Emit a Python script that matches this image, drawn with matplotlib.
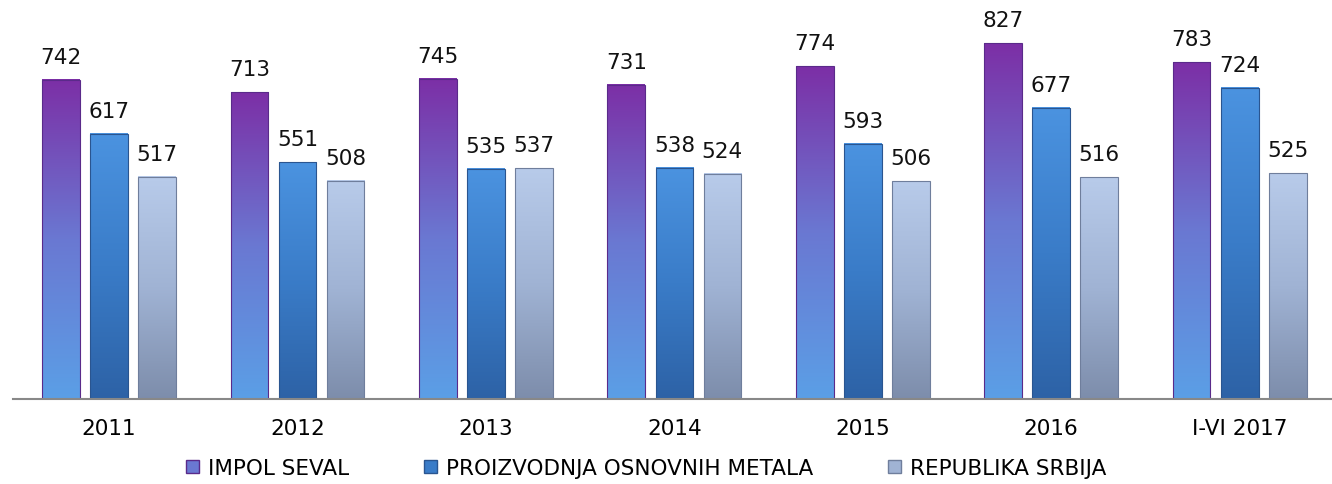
import numpy as np
import matplotlib
matplotlib.use("Agg")
from matplotlib import pyplot as plt
from matplotlib.colors import LinearSegmentedColormap
from matplotlib.patches import Patch, Rectangle

categories = ["2011", "2012", "2013", "2014", "2015", "2016", "I-VI 2017"]
impol = [742, 713, 745, 731, 774, 827, 783]
proizvodnja = [617, 551, 535, 538, 593, 677, 724]
srbija = [517, 508, 537, 524, 506, 516, 525]
series_names = ["IMPOL SEVAL", "PROIZVODNJA OSNOVNIH METALA", "REPUBLIKA SRBIJA"]

# gradient colours (bottom -> top)
grads = [
    ["#5b9fe6", "#6a78d2", "#7c2fa6"],
    ["#2d62a6", "#3a7cc8", "#4b93e0"],
    ["#7d8dab", "#a0b3d4", "#b8cbea"],
]
edges = ["#5a2a8a", "#2a5590", "#6f7e9c"]
fs = 15.5

fig = plt.figure(figsize=(13.32, 4.85), dpi=100)
ax = fig.add_axes([13 / 1332, 1 - 400 / 485, 1 - 13 / 1332, 400 / 485])

x = np.arange(len(categories))
width = 0.2
offset = 0.255
grad = np.linspace(0, 1, 256).reshape(-1, 1)

for k, vals in enumerate([impol, proizvodnja, srbija]):
    cmap = LinearSegmentedColormap.from_list("g%d" % k, grads[k])
    pos = x + (k - 1) * offset
    bars = ax.bar(pos, vals, width, color="none", edgecolor="none")
    for b, v in zip(bars, vals):
        x0 = b.get_x()
        ax.imshow(grad, extent=[x0, x0 + width, 0, v], origin="lower",
                  aspect="auto", cmap=cmap, zorder=2)
        ax.add_patch(Rectangle((x0, 0), width, v, fill=False,
                               edgecolor=edges[k], linewidth=0.8, zorder=3))
        ax.text(x0 + width / 2, v + 30, str(v), ha="center", va="bottom",
                fontsize=fs, color="#111111")

ax.set_xlim(-0.51, 6.49)
ax.set_ylim(0, 930)
for s in ["top", "right", "left"]:
    ax.spines[s].set_visible(False)
ax.spines["bottom"].set_color("#888888")
ax.spines["bottom"].set_linewidth(1.5)
ax.spines["bottom"].set_zorder(4)
ax.set_yticks([])
ax.set_xticks(x)
ax.set_xticklabels(categories, fontsize=fs)
ax.tick_params(axis="x", length=0, pad=14)

handles = [Patch(facecolor=g[1], edgecolor=e) for g, e in zip(grads, edges)]
fig.legend(handles, series_names, loc="lower center", ncol=3, frameon=False,
           fontsize=fs, handlelength=0.6, handleheight=0.6, handletextpad=0.4,
           columnspacing=3.5, bbox_to_anchor=(0.485, -0.028))

fig.savefig("out.png", dpi=100)
